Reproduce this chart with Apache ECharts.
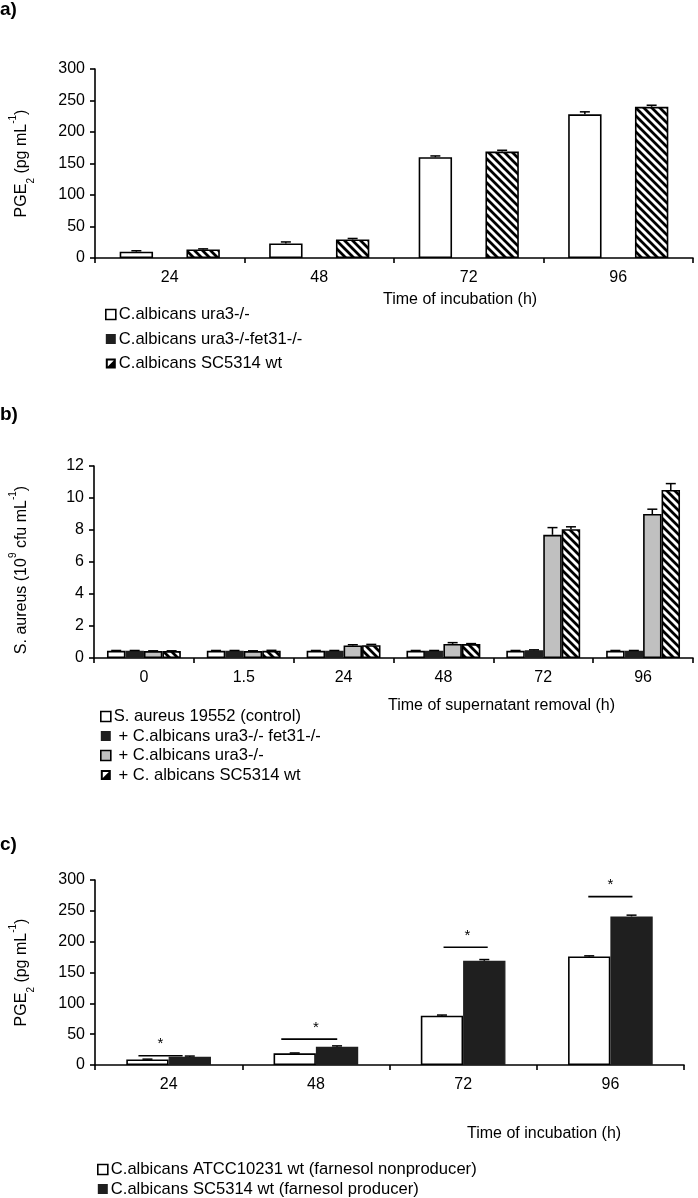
<!DOCTYPE html>
<html><head><meta charset="utf-8">
<script src="https://cdn.jsdelivr.net/npm/echarts@6/dist/echarts.min.js"></script>
<style>html,body{margin:0;padding:0;background:#fff}#c{width:698px;height:1198px}</style>
</head><body><div id="c"></div>
<script>
// ---------- DATA ----------
const catA = ['24', '48', '72', '96'];
const pgeTicks = [0, 50, 100, 150, 200, 250, 300];
const aUra3 = [10, 23, 160, 228];
const aUra3Err = [1.5, 2.5, 2, 4];
const aFet31 = [null, null, null, null];
const aSC5314 = [13.5, 29.5, 169, 240];
const aSC5314Err = [1, 1.5, 2, 2.5];

const catB = ['0', '1.5', '24', '48', '72', '96'];
const cfuTicks = [0, 2, 4, 6, 8, 10, 12];
const bControl = [0.45, 0.45, 0.45, 0.45, 0.45, 0.45];
const bControlErr = [0.02, 0.02, 0.02, 0.02, 0.02, 0.02];
const bFet31 = [0.45, 0.45, 0.45, 0.45, 0.48, 0.45];
const bFet31Err = [0.02, 0.02, 0.02, 0.02, 0.03, 0.02];
const bUra3 = [0.43, 0.43, 0.78, 0.88, 7.7, 9.0];
const bUra3Err = [0.02, 0.02, 0.05, 0.08, 0.45, 0.3];
const bSC5314 = [0.43, 0.45, 0.8, 0.87, 8.05, 10.5];
const bSC5314Err = [0.02, 0.03, 0.05, 0.03, 0.15, 0.4];

const catC = ['24', '48', '72', '96'];
const cATCC = [9, 19, 80, 176];
const cATCCErr = [0.5, 0.5, 1, 1];
const cSC5314 = [13.5, 29.5, 169, 241];
const cSC5314Err = [1, 1.5, 2, 2];
const cSigLevel = [15, 42, 191, 273];

const namesA = ['C.albicans ura3-/-', 'C.albicans ura3-/-fet31-/-', 'C.albicans SC5314 wt'];
const namesB = ['S. aureus 19552 (control)', '+ C.albicans ura3-/- fet31-/-', '+ C.albicans ura3-/-', '+ C. albicans SC5314 wt'];
const namesC = ['C.albicans ATCC10231 wt (farnesol nonproducer)', 'C.albicans SC5314 wt (farnesol producer)'];

// ---------- STYLE ----------
const FONT = "'Liberation Sans', Arial, sans-serif";
const BLACK = '#1f1f1f';
const GRAY = '#c0c0c0';

function makeHatch() {
  const T = 8;
  const c = document.createElement('canvas');
  c.width = T; c.height = T;
  const ctx = c.getContext('2d');
  ctx.fillStyle = '#fff'; ctx.fillRect(0, 0, T, T);
  ctx.strokeStyle = '#000'; ctx.lineWidth = 2.8;
  ctx.beginPath();
  for (const dx of [-T, 0, T]) { ctx.moveTo(dx - 1, -1); ctx.lineTo(dx + T + 1, T + 1); }
  ctx.stroke();
  return c;
}
const hatch = { image: makeHatch(), repeat: 'repeat' };
const hatchIcon = 'path://M0,0L10,0L10,10L0,10ZM2,2L2,8L8,8L8,2ZM8,2L8,8L2,8Z';

const styles = {
  white: { color: '#fff', borderColor: '#000', borderWidth: 1.6 },
  black: { color: BLACK, borderColor: BLACK, borderWidth: 1.2 },
  gray: { color: GRAY, borderColor: '#000', borderWidth: 1.6 },
  hatch: { color: hatch, borderColor: '#000', borderWidth: 1.6 }
};
const legendIcon = {
  white: { icon: 'rect', itemStyle: { color: '#fff', borderColor: '#000', borderWidth: 1.6 } },
  black: { icon: 'rect', itemStyle: { color: BLACK, borderColor: BLACK, borderWidth: 0 } },
  gray: { icon: 'rect', itemStyle: { color: GRAY, borderColor: '#000', borderWidth: 1.6 } },
  hatch: { icon: hatchIcon, itemStyle: { color: '#000', borderWidth: 0 } }
};

function barSeries(name, xi, data, st, gap) {
  return {
    type: 'bar', name, xAxisIndex: xi, yAxisIndex: xi,
    data: data.map(v => v == null ? '-' : v),
    barGap: '0%', barCategoryGap: gap, itemStyle: styles[st],
    silent: true, animation: false
  };
}
function errSeries(xi, n, idx, gapFrac, means, errs) {
  const data = [];
  means.forEach((m, i) => { if (m != null) data.push([i, m, errs[i]]); });
  return {
    type: 'custom', xAxisIndex: xi, yAxisIndex: xi, z: 5, silent: true, animation: false,
    data, encode: { x: 0, y: 1 },
    renderItem: (params, api) => {
      const ci = api.value(0), m = api.value(1), e = api.value(2);
      const band = api.size([1, 0])[0];
      const bw = band * (1 - gapFrac) / n;
      const off = (idx - (n - 1) / 2) * bw;
      const p0 = api.coord([ci, m]);
      const p1 = api.coord([ci, m + e]);
      const x = p0[0] + off;
      const cap = Math.min(5, bw * 0.28);
      return { type: 'group', children: [
        { type: 'line', shape: { x1: x, y1: p0[1], x2: x, y2: p1[1] }, style: { stroke: '#000', lineWidth: 1.5 } },
        { type: 'line', shape: { x1: x - cap, y1: p1[1], x2: x + cap, y2: p1[1] }, style: { stroke: '#000', lineWidth: 1.5 } }
      ] };
    }
  };
}
// layout of significance brackets (fractions of band)
const sigShift = [-0.055, -0.045, 0.017, 0];
const sigHalf = [0.15, 0.19, 0.15, 0.15];
const starShift = [-0.055, 0, 0.03, 0];

function catAxis(gi, cats) {
  return {
    type: 'category', gridIndex: gi, data: cats,
    axisLine: { lineStyle: { color: '#000', width: 1.6 } },
    axisTick: { show: true, length: 5, lineStyle: { color: '#000', width: 1.6 } },
    axisLabel: { color: '#000', fontSize: 16, fontFamily: FONT, margin: 12 },
    splitLine: { show: false }
  };
}
function valAxis(gi, ticks, nameRich, gap, pad) {
  return {
    type: 'value', gridIndex: gi, min: ticks[0], max: ticks[ticks.length - 1], interval: ticks[1] - ticks[0],
    axisLine: { show: true, lineStyle: { color: '#000', width: 1.6 } },
    axisTick: { show: true, length: 5, lineStyle: { color: '#000', width: 1.6 } },
    axisLabel: { color: '#000', fontSize: 16, fontFamily: FONT, margin: 10 },
    splitLine: { show: false },
    name: nameRich, nameLocation: 'middle', nameRotate: 90, nameGap: gap,
    nameTextStyle: {
      color: '#000', fontSize: 16, fontFamily: FONT, lineHeight: 20, padding: pad,
      rich: {
        sub: { fontSize: 10, fontFamily: FONT, color: '#000', verticalAlign: 'bottom', lineHeight: 14 },
        sup: { fontSize: 10, fontFamily: FONT, color: '#000', verticalAlign: 'top', lineHeight: 28 }
      }
    }
  };
}
function legend(names, icons, left, top, gap) {
  return {
    orient: 'vertical', left, top, height: 120, width: 500, itemWidth: 10, itemHeight: 10, itemGap: gap,
    selectedMode: false, padding: 0,
    textStyle: { color: '#000', fontSize: 16.6, fontFamily: FONT, padding: [0, 0, 0, -2] },
    formatter: n => n.charAt(0) === '+' ? ' ' + n : n,
    data: names.map((n, i) => Object.assign({ name: n }, legendIcon[icons[i]]))
  };
}
function label(text, x, y, size, bold) {
  return { type: 'text', left: x, top: y, style: { text, fill: '#000', font: (bold ? 'bold ' : '') + size + 'px ' + FONT } };
}

const gapA = 0.33, gapB = 0.26, gapC = 0.425;
const pgeName = 'PGE{sub|2} (pg mL{sup|-1})';
const cfuName = 'S. aureus (10{sup|9} cfu mL{sup|-1})';

const option = {
  backgroundColor: '#fff',
  animation: false,
  grid: [
    { left: 93, right: 5, top: 69, height: 189 },
    { left: 91, right: 5, top: 466, height: 192 },
    { left: 93, right: 14, top: 880, height: 185 }
  ],
  xAxis: [catAxis(0, catA), catAxis(1, catB), catAxis(2, catC)],
  yAxis: [
    valAxis(0, pgeTicks, pgeName, 59, 0),
    valAxis(1, cfuTicks, cfuName, 58, [0, 16, 0, 0]),
    valAxis(2, pgeTicks, pgeName, 59, 0)
  ],
  legend: [
    legend(namesA, ['white', 'black', 'hatch'], 105, 306, 7.5),
    legend(namesB, ['white', 'black', 'gray', 'hatch'], 100, 708, 2.5),
    legend(namesC, ['white', 'black'], 97, 1161, 2.5)
  ],
  graphic: [
    label('a)', 0, 0, 19, true),
    label('b)', 0, 405, 19, true),
    label('c)', 0, 835, 19, true),
    label('Time of incubation (h)', 383, 292, 16, false),
    label('Time of supernatant removal (h)', 388, 698, 16, false),
    label('Time of incubation (h)', 467, 1126, 16, false)
  ],
  series: [
    barSeries(namesA[0], 0, aUra3, 'white', '33%'),
    barSeries(namesA[1], 0, aFet31, 'black', '33%'),
    barSeries(namesA[2], 0, aSC5314, 'hatch', '33%'),
    errSeries(0, 3, 0, gapA, aUra3, aUra3Err),
    errSeries(0, 3, 2, gapA, aSC5314, aSC5314Err),

    barSeries(namesB[0], 1, bControl, 'white', '26%'),
    barSeries(namesB[1], 1, bFet31, 'black', '26%'),
    barSeries(namesB[2], 1, bUra3, 'gray', '26%'),
    barSeries(namesB[3], 1, bSC5314, 'hatch', '26%'),
    errSeries(1, 4, 0, gapB, bControl, bControlErr),
    errSeries(1, 4, 1, gapB, bFet31, bFet31Err),
    errSeries(1, 4, 2, gapB, bUra3, bUra3Err),
    errSeries(1, 4, 3, gapB, bSC5314, bSC5314Err),

    barSeries(namesC[0], 2, cATCC, 'white', '42.5%'),
    barSeries(namesC[1], 2, cSC5314, 'black', '42.5%'),
    errSeries(2, 2, 0, gapC, cATCC, cATCCErr),
    errSeries(2, 2, 1, gapC, cSC5314, cSC5314Err),
    {
      type: 'custom', xAxisIndex: 2, yAxisIndex: 2, z: 6, silent: true, animation: false,
      data: cSigLevel.map((v, i) => [i, v]), encode: { x: 0, y: 1 },
      renderItem: (params, api) => {
        const ci = api.value(0), v = api.value(1);
        const band = api.size([1, 0])[0];
        const p = api.coord([ci, v]);
        const cx = p[0] + sigShift[ci] * band;
        const hw = sigHalf[ci] * band;
        return { type: 'group', children: [
          { type: 'line', shape: { x1: cx - hw, y1: p[1], x2: cx + hw, y2: p[1] }, style: { stroke: '#000', lineWidth: 1.6 } },
          { type: 'text', x: p[0] + starShift[ci] * band, y: p[1] - 4, style: { text: '*', fill: '#000', font: '15px ' + FONT, textAlign: 'center', textVerticalAlign: 'bottom' } }
        ] };
      }
    }
  ]
};
const chart = echarts.init(document.getElementById('c'), null, { renderer: 'canvas' });
chart.setOption(option);
</script></body></html>
